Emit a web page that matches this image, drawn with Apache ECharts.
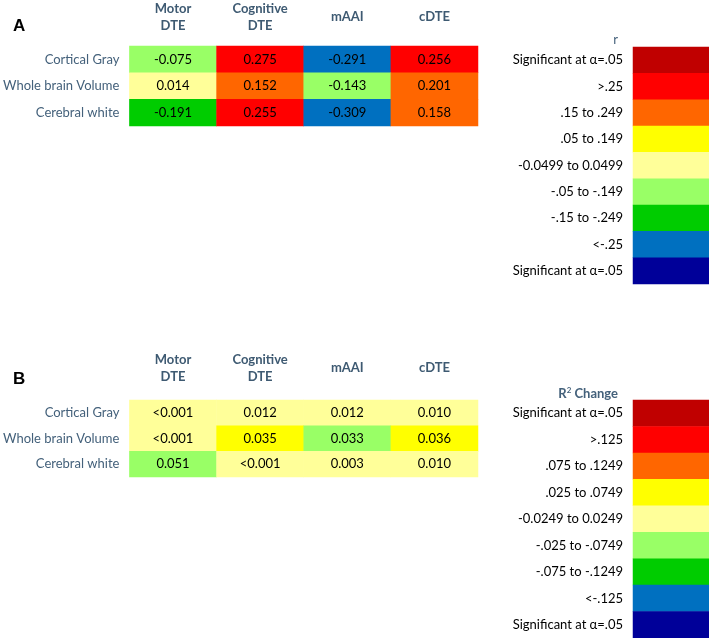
<!DOCTYPE html>
<html>
<head>
<meta charset="utf-8">
<script src="https://cdn.jsdelivr.net/npm/echarts@6/dist/echarts.min.js"></script>
<style>
  html, body { margin: 0; padding: 0; background: #fff; }
  #chart { width: 709px; height: 638px; }
</style>
</head>
<body>
<div id="chart"></div>
<script>
// 列与行
const columns = ['Motor\nDTE', 'Cognitive\nDTE', 'mAAI', 'cDTE'];
const rows = ['Cortical Gray', 'Whole brain Volume', 'Cerebral white'];

// A: r 值与色阶类别
const rText = [
  ['-0.075', '0.275', '-0.291', '0.256'],
  ['0.014', '0.152', '-0.143', '0.201'],
  ['-0.191', '0.255', '-0.309', '0.158']
];
const rClass = [
  [5, 1, 7, 1],
  [4, 2, 5, 2],
  [6, 1, 7, 2]
];

// B: R² change 与色阶类别
const r2Text = [
  ['<0.001', '0.012', '0.012', '0.010'],
  ['<0.001', '0.035', '0.033', '0.036'],
  ['0.051', '<0.001', '0.003', '0.010']
];
const r2Class = [
  [4, 4, 4, 4],
  [4, 3, 5, 3],
  [5, 4, 4, 4]
];

// 图例标签
const rLegend = ['Significant at α=.05', '>.25', '.15 to .249', '.05 to .149', '-0.0499 to 0.0499',
  '-.05 to -.149', '-.15 to -.249', '<-.25', 'Significant at α=.05'];
const r2Legend = ['Significant at α=.05', '>.125', '.075 to .1249', '.025 to .0749', '-0.0249 to 0.0249',
  '-.025 to -.0749', '-.075 to -.1249', '<-.125', 'Significant at α=.05'];

const palette = ['#c00000', '#ff0000', '#ff6600', '#ffff00', '#ffff99', '#99ff66', '#00cc00', '#0070c0', '#000099'];

const font = 'Lato, "Liberation Sans", sans-serif';
const rowColor = '#44617b';

function cells(text, cls) {
  const out = [];
  rows.forEach((r, i) => {
    columns.forEach((c, j) => {
      out.push({ value: [j, i, cls[i][j]], text: text[i][j], itemStyle: { color: palette[cls[i][j]] } });
    });
  });
  return out;
}

function legendCells(labels) {
  return labels.map((l, i) => ({ value: [0, i, i], itemStyle: { color: palette[i] } }));
}

const chart = echarts.init(document.getElementById('chart'), null, { renderer: 'canvas' });

const grids = [
  { left: 128, top: 46, width: 350, height: 80 },
  { left: 128, top: 400, width: 350, height: 77 },
  { left: 633, top: 47, width: 76, height: 237 },
  { left: 633, top: 400, width: 76, height: 238 }
];

const hidden = { axisLine: { show: false }, axisTick: { show: false }, splitLine: { show: false }, splitArea: { show: false } };

const xAxes = [[0, 29], [1, 32]].map(([g, m]) => Object.assign({
  type: 'category', gridIndex: g, data: columns, position: 'top',
  axisLabel: { margin: m, verticalAlign: 'middle', lineHeight: 17, fontFamily: font, fontSize: 13, fontWeight: 'bold', color: '#3e5a72' }
}, hidden)).concat([2, 3].map(g => Object.assign({
  type: 'category', gridIndex: g, data: [''], axisLabel: { show: false }
}, hidden)));

const yAxes = [0, 1].map(g => Object.assign({
  type: 'category', gridIndex: g, data: rows, inverse: true,
  axisLabel: { margin: 10, fontFamily: font, fontSize: 13, color: rowColor }
}, hidden)).concat([[2, rLegend], [3, r2Legend]].map(([g, d]) => Object.assign({
  type: 'category', gridIndex: g, data: d, inverse: true,
  axisLabel: { margin: 10, fontFamily: font, fontSize: 13, color: '#000' }
}, hidden)));

const heat = (idx, data, showLabel) => ({
  type: 'heatmap', xAxisIndex: idx, yAxisIndex: idx, data: data,
  label: { show: showLabel, fontFamily: font, fontSize: 13, color: '#000', formatter: p => p.data.text },
  itemStyle: { borderWidth: 0 },
  emphasis: { disabled: true }
});

const option = {
  animation: false,
  backgroundColor: '#fff',
  title: [
    { text: 'A', left: 8, top: 13, textStyle: { fontFamily: '"Liberation Sans", Arial, sans-serif', fontSize: 17, fontWeight: 'bold', color: '#000' } },
    { text: 'B', left: 8, top: 366, textStyle: { fontFamily: '"Liberation Sans", Arial, sans-serif', fontSize: 17, fontWeight: 'bold', color: '#000' } },
    { text: 'r', right: 86, top: 28, textStyle: { fontFamily: font, fontSize: 13, fontWeight: 'normal', color: rowColor } },
    { text: '{a|R}{s|2}{a| Change}', right: 86, top: 381,
      textStyle: { rich: { a: { fontFamily: font, fontSize: 13, color: rowColor, verticalAlign: 'bottom' }, s: { fontFamily: font, fontSize: 8, color: rowColor, verticalAlign: 'top', padding: [0, 0, 6, 0] } } } }
  ],
  grid: grids,
  xAxis: xAxes,
  yAxis: yAxes,
  series: [
    heat(0, cells(rText, rClass), true),
    heat(1, cells(r2Text, r2Class), true),
    heat(2, legendCells(rLegend), false),
    heat(3, legendCells(r2Legend), false)
  ]
};

chart.setOption(option);
</script>
</body>
</html>
